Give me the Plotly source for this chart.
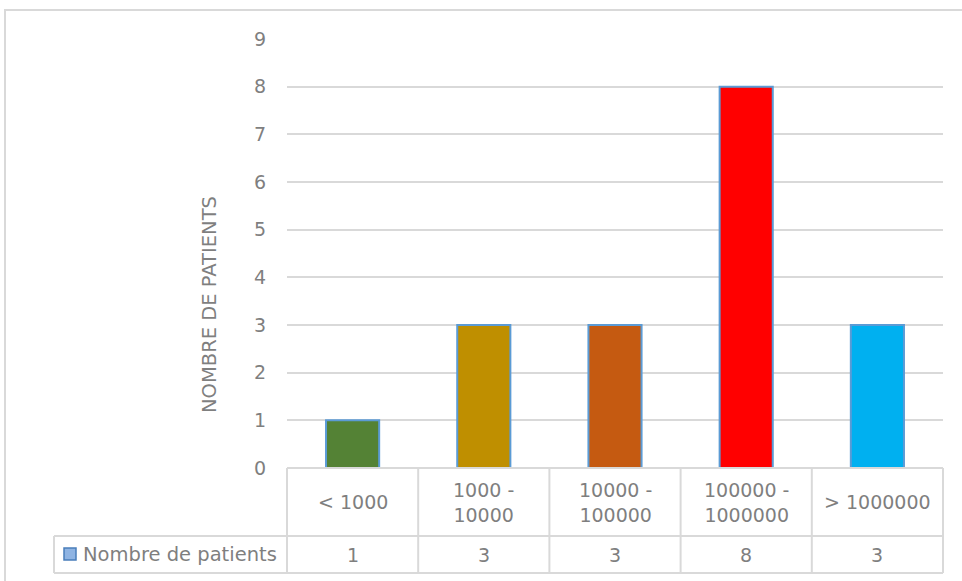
import plotly.graph_objects as go

# Viral load ranges and patient counts
categories = ["< 1000", "1000 -<br>10000", "10000 -<br>100000", "100000 -<br>1000000", "> 1000000"]
patients = [1, 3, 3, 8, 3]
bar_colors = ["#548235", "#BF8F00", "#C55A11", "#FF0000", "#00B0F0"]
series_name = "Nombre de patients"
y_title = "NOMBRE DE PATIENTS"
y_ticks = list(range(0, 10))

FONT = "DejaVu Sans"
FS = 19
TXT = "#7F7F7F"
GRID = "#D9D9D9"

W, H = 962, 581
L, R, T, B = 287, 19, 39, 113
pw, ph = W - L - R, H - T - B


def px_x(px):
    return (px - L) / pw


def px_y(py):
    return (H - B - py) / ph


fig = go.Figure()
fig.add_trace(go.Bar(
    x=list(range(len(categories))),
    y=patients,
    name=series_name,
    marker=dict(color=bar_colors, line=dict(color="#5B9BD5", width=2)),
    width=0.405,
    showlegend=False,
))

shapes = []
annotations = []
n = len(categories)

# data table under the plot: header row with categories, value row
row1_top, row1_bot, row2_bot = 0, px_y(536), px_y(573)
left_edge = px_x(54)
line = dict(color=GRID, width=2)
# horizontal lines
shapes.append(dict(type="line", xref="paper", yref="paper", x0=0, x1=1, y0=row1_top, y1=row1_top, line=line))
shapes.append(dict(type="line", xref="paper", yref="paper", x0=left_edge, x1=1, y0=row1_bot, y1=row1_bot, line=line))
shapes.append(dict(type="line", xref="paper", yref="paper", x0=left_edge, x1=1, y0=row2_bot, y1=row2_bot, line=line))
# vertical lines
for i in range(n + 1):
    shapes.append(dict(type="line", xref="paper", yref="paper", x0=i / n, x1=i / n,
                       y0=row2_bot, y1=row1_top, line=line))
shapes.append(dict(type="line", xref="paper", yref="paper", x0=left_edge, x1=left_edge,
                   y0=row2_bot, y1=row1_bot, line=line))

for i, (cat, val) in enumerate(zip(categories, patients)):
    annotations.append(dict(x=i, xref="x", y=(row1_top + row1_bot) / 2, yref="paper",
                            text=cat, showarrow=False, font=dict(family=FONT, size=FS, color=TXT),
                            xanchor="center", yanchor="middle"))
    annotations.append(dict(x=i, xref="x", y=(row1_bot + row2_bot) / 2, yref="paper",
                            text=str(val), showarrow=False, font=dict(family=FONT, size=FS, color=TXT),
                            xanchor="center", yanchor="middle"))

# legend key inside the value row
shapes.append(dict(type="rect", xref="paper", yref="paper",
                   x0=px_x(64), x1=px_x(76), y0=px_y(560), y1=px_y(548),
                   fillcolor="#8FB4E3", line=dict(color="#4A7EBB", width=1.5)))
annotations.append(dict(x=px_x(81), xref="paper", y=(row1_bot + row2_bot) / 2, yref="paper",
                        text=series_name, showarrow=False, font=dict(family=FONT, size=19.5, color=TXT),
                        xanchor="left", yanchor="middle"))

# axis title
annotations.append(dict(x=px_x(209), xref="paper", y=px_y(305), yref="paper",
                        text=y_title, textangle=-90, showarrow=False,
                        font=dict(family=FONT, size=19.5, color=TXT),
                        xanchor="center", yanchor="middle"))

# chart frame
shapes.append(dict(type="rect", xref="paper", yref="paper",
                   x0=px_x(5), x1=px_x(975), y0=px_y(600), y1=px_y(10),
                   line=dict(color=GRID, width=2), fillcolor="rgba(0,0,0,0)"))

fig.update_layout(
    width=W, height=H,
    margin=dict(l=L, r=R, t=T, b=B, pad=0),
    paper_bgcolor="white", plot_bgcolor="white",
    bargap=0.6,
    xaxis=dict(range=[-0.5, n - 0.5], showticklabels=False, showgrid=False, zeroline=False,
               showline=False, ticks=""),
    yaxis=dict(range=[0, 9], tickvals=y_ticks, showgrid=True, gridcolor=GRID, gridwidth=1.5,
               zeroline=False, showline=False, ticks="", ticklabelstandoff=20,
               tickfont=dict(family=FONT, size=FS, color=TXT)),
    shapes=shapes,
    annotations=annotations,
)

fig.write_html("out.html")
